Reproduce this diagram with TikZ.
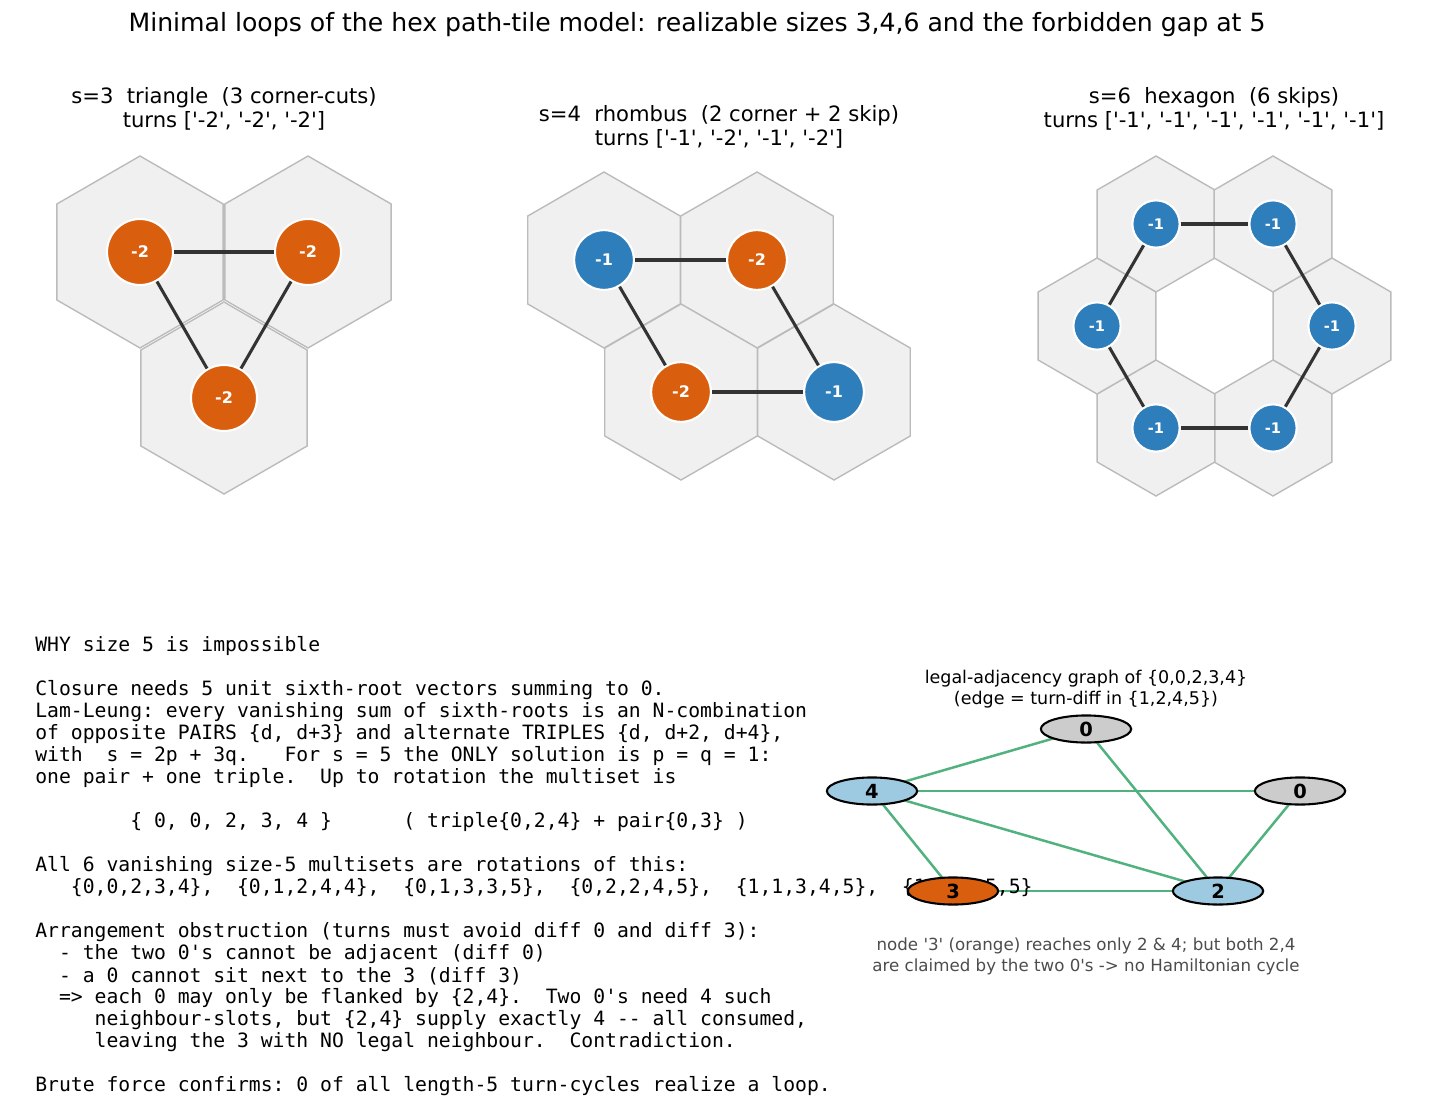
\documentclass[tikz,border=0pt]{standalone}
\usepackage{fontspec}
\setmainfont{DejaVu Sans}
\setmonofont{DejaVu Sans Mono}
\usetikzlibrary{shapes.geometric}

\definecolor{turnorange}{HTML}{D95F0E}
\definecolor{turnblue}{HTML}{2F7EBC}
\definecolor{cellgray}{HTML}{F0F0F0}
\definecolor{celledge}{HTML}{BBBBBB}
\definecolor{legalgreen}{HTML}{52B27F}
\definecolor{zerogray}{HTML}{CCCCCC}
\definecolor{lightblue}{HTML}{9ECAE1}

\newcommand{\q}{\textquotesingle}
\tikzset{
  hexcell/.style={fill=cellgray, draw=celledge, line width=1pt},
  turn/.style={shape=circle, draw=white, line width=1.5pt, text=white, font=\bfseries\fontsize{11.5}{13}\selectfont, inner sep=0pt},
  link/.style={draw=black!80, line width=2.2pt},
  legal/.style={draw=legalgreen, line width=1.8pt},
  vert/.style={shape=ellipse, draw=black, line width=1.5pt, minimum width=65pt, minimum height=19.5pt, inner sep=0pt, font=\bfseries\fontsize{14}{16}\selectfont},
  caption/.style={align=center, font=\fontsize{15.2}{16.8}\selectfont},
  mono/.style={anchor=west, inner sep=0pt, font=\ttfamily\fontsize{14.2}{16}\selectfont}
}
\newcommand{\hexat}[3]{\draw[hexcell] ([shift={(#1,#2)}]30:#3) -- ([shift={(#1,#2)}]90:#3) -- ([shift={(#1,#2)}]150:#3) -- ([shift={(#1,#2)}]210:#3) -- ([shift={(#1,#2)}]270:#3) -- ([shift={(#1,#2)}]330:#3) -- cycle;}

\begin{document}
\begin{tikzpicture}[x=0.72pt, y=-0.72pt]
			\useasboundingbox (0,0) rectangle (1438,1111);
			\node[font=\fontsize{18.1}{20}\selectfont] (title) at (697,25) {Minimal loops of the hex path-tile model: realizable sizes 3,4,6 and the forbidden gap at 5};

			% triangle
			\node[caption] (captri) at (224,109) {s=3\ \ triangle\ \ (3 corner-cuts)\\turns [\q-2\q, \q-2\q, \q-2\q]};
			\hexat{140}{252}{96}
			\hexat{308}{252}{96}
			\hexat{224}{398}{96}
			\node[turn, fill=turnorange, minimum size=47.5pt] (ta) at (140,252) {-2};
			\node[turn, fill=turnorange, minimum size=47.5pt] (tb) at (308,252) {-2};
			\node[turn, fill=turnorange, minimum size=47.5pt] (tc) at (224,398) {-2};
			\path[link] (ta) -- (tb);
			\path[link] (tb) -- (tc);
			\path[link] (tc) -- (ta);

			% rhombus
			\node[caption] (caprho) at (719,127) {s=4\ \ rhombus\ \ (2 corner + 2 skip)\\turns [\q-1\q, \q-2\q, \q-1\q, \q-2\q]};
			\hexat{604}{260}{88}
			\hexat{757}{260}{88}
			\hexat{681}{392}{88}
			\hexat{834}{392}{88}
			\node[turn, fill=turnblue, minimum size=43pt] (ra) at (604,260) {-1};
			\node[turn, fill=turnorange, minimum size=43pt] (rb) at (757,260) {-2};
			\node[turn, fill=turnblue, minimum size=43pt] (rc) at (834,392) {-1};
			\node[turn, fill=turnorange, minimum size=43pt] (rd) at (681,392) {-2};
			\path[link] (ra) -- (rb);
			\path[link] (rb) -- (rc);
			\path[link] (rc) -- (rd);
			\path[link] (rd) -- (ra);

			% hexagon
			\node[caption] (caphex) at (1214,109) {s=6\ \ hexagon\ \ (6 skips)\\turns [\q-1\q, \q-1\q, \q-1\q, \q-1\q, \q-1\q, \q-1\q]};
			\hexat{1156}{224}{68}
			\hexat{1273}{224}{68}
			\hexat{1332}{326}{68}
			\hexat{1273}{428}{68}
			\hexat{1156}{428}{68}
			\hexat{1097}{326}{68}
			\node[turn, fill=turnblue, minimum size=34pt, font=\bfseries\fontsize{10.5}{12}\selectfont] (ha) at (1156,224) {-1};
			\node[turn, fill=turnblue, minimum size=34pt, font=\bfseries\fontsize{10.5}{12}\selectfont] (hb) at (1273,224) {-1};
			\node[turn, fill=turnblue, minimum size=34pt, font=\bfseries\fontsize{10.5}{12}\selectfont] (hc) at (1332,326) {-1};
			\node[turn, fill=turnblue, minimum size=34pt, font=\bfseries\fontsize{10.5}{12}\selectfont] (hd) at (1273,428) {-1};
			\node[turn, fill=turnblue, minimum size=34pt, font=\bfseries\fontsize{10.5}{12}\selectfont] (he) at (1156,428) {-1};
			\node[turn, fill=turnblue, minimum size=34pt, font=\bfseries\fontsize{10.5}{12}\selectfont] (hf) at (1097,326) {-1};
			\path[link] (ha) -- (hb);
			\path[link] (hb) -- (hc);
			\path[link] (hc) -- (hd);
			\path[link] (hd) -- (he);
			\path[link] (he) -- (hf);
			\path[link] (hf) -- (ha);

			% argument text
			\node[mono] (l1) at (35,646) {WHY size 5 is impossible};
			\node[mono] (l2) at (35,690) {Closure needs 5 unit sixth-root vectors summing to 0.};
			\node[mono] (l3) at (35,712) {Lam-Leung: every vanishing sum of sixth-roots is an N-combination};
			\node[mono] (l4) at (35,734) {of opposite PAIRS \{d, d+3\} and alternate TRIPLES \{d, d+2, d+4\},};
			\node[mono] (l5) at (35,756) {with\ \ s = 2p + 3q.\ \ \ For s = 5 the ONLY solution is p = q = 1:};
			\node[mono] (l6) at (35,778) {one pair + one triple.\ \ Up to rotation the multiset is};
			\node[mono] (l7) at (35,822) {\ \ \ \ \ \ \ \ \{ 0, 0, 2, 3, 4 \}\ \ \ \ \ \ ( triple\{0,2,4\} + pair\{0,3\} )};
			\node[mono] (l8) at (35,866) {All 6 vanishing size-5 multisets are rotations of this:};
			\node[mono] (l10) at (35,932) {Arrangement obstruction (turns must avoid diff 0 and diff 3):};
			\node[mono] (l11) at (35,954) {\ \ - the two 0\q s cannot be adjacent (diff 0)};
			\node[mono] (l12) at (35,976) {\ \ - a 0 cannot sit next to the 3 (diff 3)};
			\node[mono] (l13) at (35,998) {\ \ => each 0 may only be flanked by \{2,4\}.\ \ Two 0\q s need 4 such};
			\node[mono] (l14) at (35,1020) {\ \ \ \ \ neighbour-slots, but \{2,4\} supply exactly 4 -- all consumed,};
			\node[mono] (l15) at (35,1042) {\ \ \ \ \ leaving the 3 with NO legal neighbour.\ \ Contradiction.};
			\node[mono] (l16) at (35,1086) {Brute force confirms: 0 of all length-5 turn-cycles realize a loop.};

			% adjacency graph
			\node[align=center, font=\fontsize{12.6}{15}\selectfont] (gtitle) at (1086,689) {legal-adjacency graph of \{0,0,2,3,4\}\\(edge = turn-diff in \{1,2,4,5\})};
			\coordinate (z1) at (1086,729);
			\coordinate (f) at (872,791);
			\coordinate (z2) at (1300,791);
			\coordinate (th) at (953,891);
			\coordinate (tw) at (1218,891);
			\draw[legal] (f) -- (z1);
			\draw[legal] (z1) -- (tw);
			\draw[legal] (f) -- (z2);
			\draw[legal] (z2) -- (tw);
			\draw[legal] (f) -- (tw);
			\draw[legal] (f) -- (th);
			\draw[legal] (th) -- (tw);
			\node[mono] (l9) at (35,888) {\ \ \ \{0,0,2,3,4\},\ \ \{0,1,2,4,4\},\ \ \{0,1,3,3,5\},\ \ \{0,2,2,4,5\},\ \ \{1,1,3,4,5\},\ \ \{1,2,3,5,5\}};
			\node[vert, fill=zerogray] (vz1) at (z1) {0};
			\node[vert, fill=lightblue] (vf) at (f) {4};
			\node[vert, fill=zerogray] (vz2) at (z2) {0};
			\node[vert, fill=turnorange] (vth) at (th) {3};
			\node[vert, fill=lightblue] (vtw) at (tw) {2};
			\node[align=center, text=black!70, font=\fontsize{12}{15}\selectfont] (gnote) at (1086,956) {node \q 3\q\ (orange) reaches only 2 \& 4; but both 2,4\\are claimed by the two 0\q s -> no Hamiltonian cycle};
		\end{tikzpicture}
\end{document}
